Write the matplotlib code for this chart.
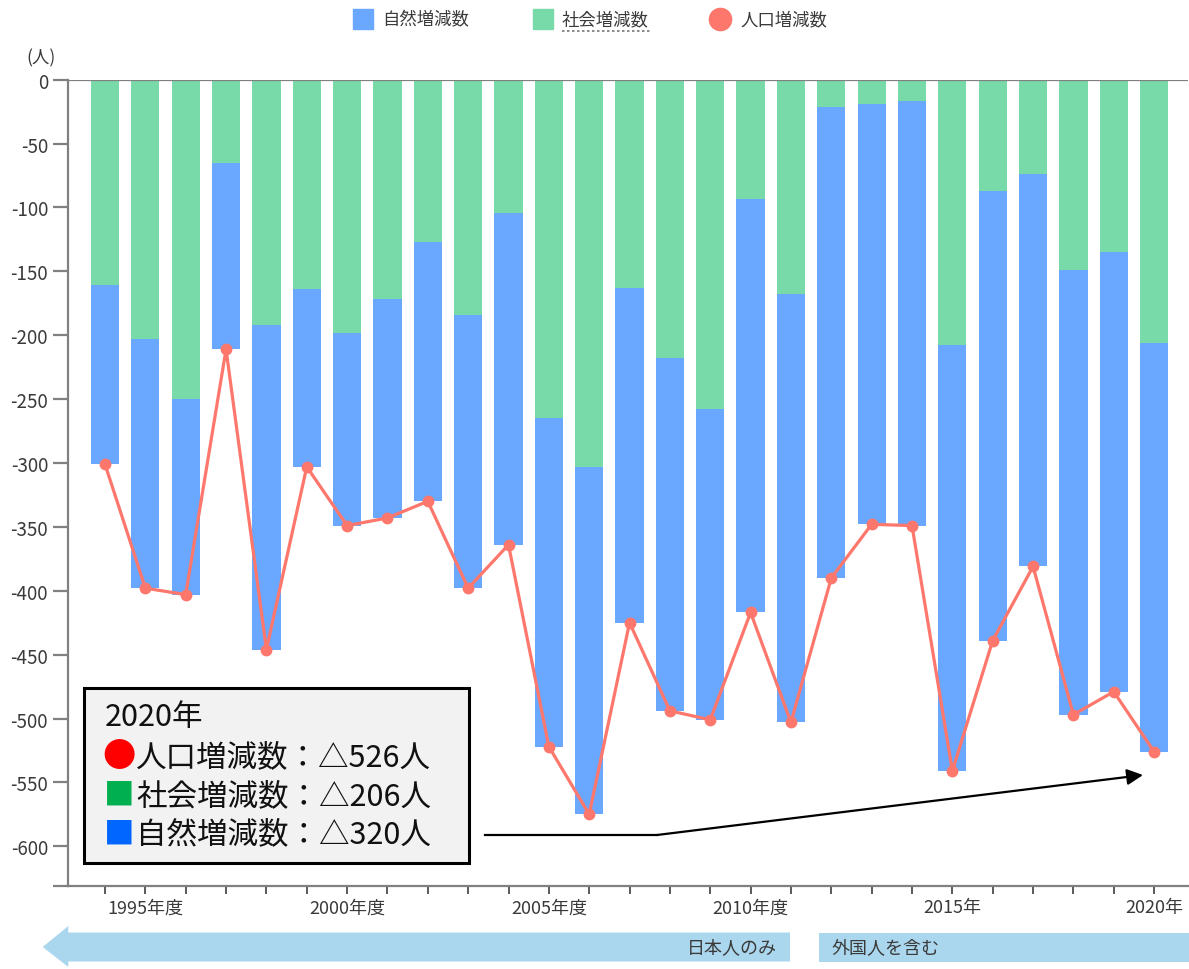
import matplotlib
matplotlib.use('Agg')
import matplotlib.pyplot as plt
from matplotlib.patches import Rectangle, Polygon, FancyArrowPatch
from matplotlib.lines import Line2D
import numpy as np

plt.rcParams['font.family'] = ['Noto Sans CJK JP', 'DejaVu Sans']
plt.rcParams['axes.unicode_minus'] = False

# ---------------- data ----------------
years = list(range(1994, 2021))
social = [-161, -203, -250, -65, -192, -164, -198, -172, -127, -184, -104, -265, -303, -163,
          -218, -258, -93, -168, -21, -19, -17, -208, -87, -74, -149, -135, -206]
natural = [-140, -195, -153, -146, -254, -139, -151, -171, -203, -214, -260, -257, -272, -262,
           -276, -243, -324, -335, -369, -329, -332, -333, -352, -307, -348, -344, -320]
total = [-301, -398, -403, -211, -446, -303, -349, -343, -330, -398, -364, -522, -575, -425,
         -494, -501, -417, -503, -390, -348, -349, -541, -439, -381, -497, -479, -526]
year_labels = {1995: '1995年度', 2000: '2000年度', 2005: '2005年度',
               2010: '2010年度', 2015: '2015年', 2020: '2020年'}
y_ticks = list(range(0, -601, -50))
legend_labels = ['自然増減数', '社会増減数', '人口増減数']
note_title = '2020年'
note_lines = ['人口増減数：△526人', '社会増減数：△206人', '自然増減数：△320人']
note_marks = ['●', '■', '■']
band_labels = ['日本人のみ', '外国人を含む']

BLUE = '#6aa7fe'
GREEN = '#78d9a9'
RED = '#fe776c'
GRAY = '#808080'
TXT = '#3a3a3a'

W, H = 1189, 970
fig = plt.figure(figsize=(W / 100, H / 100), dpi=100)


def fx(px):
    return px / W


def fy(py):
    return 1 - py / H


ax = fig.add_axes([fx(68), fy(887), fx(1188) - fx(68), fy(80.7) - fy(887)])
x = np.arange(len(years))
ax.bar(x, social, width=0.7, color=GREEN, zorder=2)
ax.bar(x, natural, bottom=social, width=0.7, color=BLUE, zorder=2)
ax.plot(x, total, color=RED, lw=2.3, marker='o', ms=7.5, zorder=3)

ymin = -631.1
ax.set_xlim(-0.917, 26.84)
ax.set_ylim(ymin, 0)
ax.axhline(0, color=GRAY, lw=1.6, zorder=4)

for s in ['top', 'right']:
    ax.spines[s].set_visible(False)
for s in ['left', 'bottom']:
    ax.spines[s].set_color(GRAY)
    ax.spines[s].set_linewidth(1.6)

ax.set_yticks(y_ticks + [ymin])
ax.set_yticklabels([str(v) for v in y_ticks] + [''])
ax.tick_params(axis='y', length=10.8, width=1.6, color=GRAY, pad=3.6,
               labelsize=13.5, labelcolor=TXT)

ax.set_xticks(list(x))
ax.set_xticklabels([year_labels.get(y, '') for y in years])
ax.tick_params(axis='x', length=6, width=1.2, color='#404040', pad=3,
               labelsize=13, labelcolor=TXT)

fig.text(fx(41.5), fy(58), '(人)', ha='center', va='center', fontsize=12.5, color=TXT)

# ---------------- legend ----------------
leg_y = 20
fig.add_artist(Line2D([fx(363)], [fy(leg_y)], marker='s', ms=15, color=BLUE,
                      transform=fig.transFigure))
fig.add_artist(Line2D([fx(543)], [fy(leg_y)], marker='s', ms=15, color=GREEN,
                      transform=fig.transFigure))
fig.add_artist(Line2D([fx(720)], [fy(leg_y)], marker='o', ms=16, color=RED,
                      transform=fig.transFigure))
for lx, lab in zip([382, 562, 740], legend_labels):
    fig.text(fx(lx), fy(leg_y), lab, ha='left', va='center', fontsize=12.5, color=TXT)
fig.add_artist(Line2D([fx(562), fx(650)], [fy(leg_y + 12), fy(leg_y + 12)], color='#777777',
                      lw=1.2, ls=(0, (1.5, 1.5)), transform=fig.transFigure))

# ---------------- annotation box ----------------
fig.add_artist(Rectangle((fx(84), fy(864)), fx(469) - fx(84), fy(689) - fy(864),
                         transform=fig.transFigure, facecolor='#f2f2f2',
                         edgecolor='black', lw=2.2, zorder=5))
fig.text(fx(105), fy(718), note_title, ha='left', va='center', fontsize=22, color='#111111',
         zorder=6)
mark_colors = ['#ff0000', '#00b050', '#0066ff']
for i, (mk, ln, mc) in enumerate(zip(note_marks, note_lines, mark_colors)):
    yy = 758 + i * 38.5
    fig.text(fx(119.5), fy(yy), mk, ha='center', va='center',
             fontsize=24 if mk == '●' else 22, color=mc, zorder=6)
    fig.text(fx(136), fy(yy), ln, ha='left', va='center', fontsize=22, color='#111111',
             zorder=6)

# pointer line
fig.add_artist(Line2D([fx(485), fx(657)], [fy(836), fy(836)], color='black', lw=1.6,
                      transform=fig.transFigure))
fig.add_artist(FancyArrowPatch(
    (fx(657), fy(836)), (fx(1143), fy(776)), transform=fig.transFigure,
    arrowstyle='-|>', mutation_scale=24, color='black', lw=1.6, shrinkA=0, shrinkB=0))

# ---------------- bottom bands ----------------
BAND = '#abd7ee'
fig.add_artist(Polygon([(fx(42.7), fy(948)), (fx(68.3), fy(927)), (fx(68.3), fy(933.5)),
                        (fx(790), fy(933.5)), (fx(790), fy(962.5)), (fx(68.3), fy(962.5)),
                        (fx(68.3), fy(968))], closed=True, transform=fig.transFigure,
                       facecolor=BAND, edgecolor='none'))
fig.add_artist(Rectangle((fx(818.6), fy(962.5)), fx(1189) - fx(818.6), fy(933.5) - fy(962.5),
                         transform=fig.transFigure, facecolor=BAND, edgecolor='none'))
fig.text(fx(777), fy(948), band_labels[0], ha='right', va='center', fontsize=13, color=TXT)
fig.text(fx(831), fy(948), band_labels[1], ha='left', va='center', fontsize=13, color=TXT)

fig.savefig('out.png', dpi=100)
